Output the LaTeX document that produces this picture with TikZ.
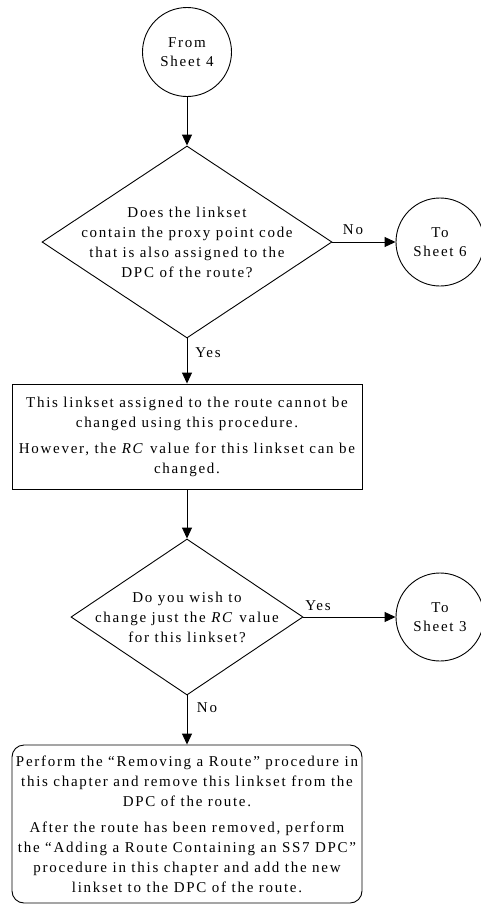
\documentclass[tikz,border=0pt]{standalone}
\usepackage{fontspec}
\setmainfont{Liberation Serif}[LetterSpace=11.5]
\usetikzlibrary{shapes.geometric,arrows.meta}
\begin{document}
\begin{tikzpicture}[x=1pt,y=-1pt,
  every node/.style={font=\fontsize{15}{20}\selectfont},
  conn/.style={draw,circle,line width=0.9pt,minimum size=89pt,inner sep=0pt,align=center},
  dec/.style={draw,diamond,line width=0.9pt,inner sep=0pt},
  txt/.style={align=center,inner sep=0pt},
  box/.style={draw,line width=0.9pt,minimum width=350pt,align=center},
  arr/.style={line width=0.9pt,-{Triangle[length=11pt,width=10pt]}},
  lbl/.style={inner sep=0pt}]
\useasboundingbox (0,0) rectangle (481,905);
\node[conn] (c4) at (187,52) {From\\[-1pt]Sheet 4};
\node[dec,minimum width=290pt,minimum height=192pt] (d1) at (187,242) {};
\node[txt] (d1t) at (187,242) {Does the linkset\\contain the proxy point code\\that is also assigned to the\\DPC of the route?};
\node[conn,minimum size=88pt] (c6) at (440,242) {To\\[-1pt]Sheet 6};
\node[box,minimum height=105pt] (r1) at (187,436.5) {This linkset assigned to the route cannot be\\changed using this procedure.\\[6pt]However, the \textit{RC} value for this linkset can be\\changed.};
\node[dec,minimum width=232pt,minimum height=156pt] (d2) at (187,617) {};
\node[txt] (d2t) at (187,617) {Do you wish to\\change just the \textit{RC} value\\for this linkset?};
\node[conn,minimum size=88pt] (c3) at (440,617) {To\\[-1pt]Sheet 3};
\node[box,rounded corners=12pt,minimum height=158pt] (r2) at (187,824) {Perform the “Removing a Route” procedure in\\this chapter and remove this linkset from the\\DPC of the route.\\[6pt]After the route has been removed, perform\\the “Adding a Route Containing an SS7 DPC”\\procedure in this chapter and add the new\\linkset to the DPC of the route.};
\draw[arr] (c4) -- (d1.north);
\draw[arr] (d1.east) -- (c6);
\draw[arr] (d1.south) -- (r1);
\draw[arr] (r1) -- (d2.north);
\draw[arr] (d2.east) -- (c3);
\draw[arr] (d2.south) -- (r2);
\node[lbl] (l1) at (353,230) {No};
\node[lbl] (l2) at (208,353) {Yes};
\node[lbl] (l3) at (318,606) {Yes};
\node[lbl] (l4) at (207,708) {No};
\end{tikzpicture}
\end{document}
